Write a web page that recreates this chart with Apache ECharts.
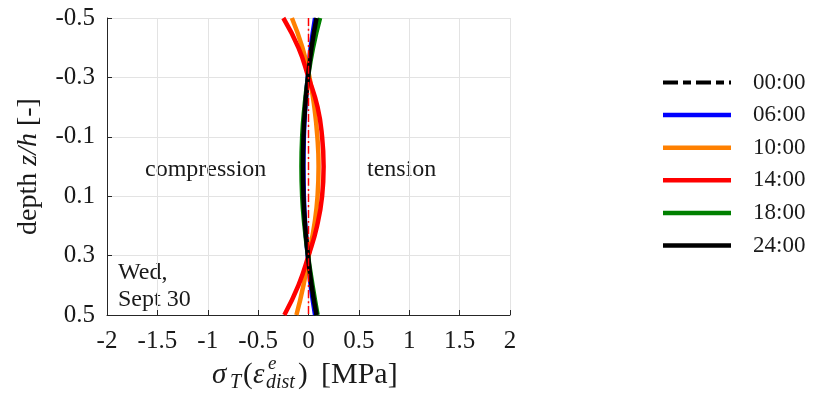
<!DOCTYPE html>
<html>
<head>
<meta charset="utf-8">
<script src="https://cdn.jsdelivr.net/npm/echarts@6/dist/echarts.min.js"></script>
<style>
  html, body { margin: 0; padding: 0; background: #fff; }
  #chart { width: 816px; height: 394px; }
</style>
</head>
<body>
<div id="chart"></div>
<script>
// depth z/h, top of slab = -0.5
const depth = [-0.5, -0.4, -0.3, -0.2, -0.1, 0, 0.1, 0.2, 0.3, 0.4, 0.5];
// stress [MPa] per hour
const s0000 = [0, 0, 0, 0, 0, 0, 0, 0, 0, 0, 0];
const s0600 = [0.065, 0.022, -0.008, -0.032, -0.046, -0.05, -0.046, -0.032, -0.008, 0.022, 0.065];
const s1000 = [-0.165, -0.06, 0.01, 0.058, 0.088, 0.1, 0.09, 0.056, 0.002, -0.05, -0.12];
const s1400 = [-0.25, -0.1, 0.0, 0.09, 0.135, 0.15, 0.135, 0.085, 0.0, -0.1, -0.24];
const s1800 = [0.115, 0.045, -0.005, -0.04, -0.063, -0.07, -0.063, -0.04, -0.005, 0.04, 0.09];
const s2400 = [0.08, 0.03, -0.005, -0.033, -0.05, -0.055, -0.05, -0.033, -0.005, 0.03, 0.08];
const hours = ['00:00', '06:00', '10:00', '14:00', '18:00', '24:00'];
const colors = ['#ff0000', '#0000ff', '#ff8000', '#ff0000', '#008000', '#000000'];
const legendColors = ['#000000', '#0000ff', '#ff8000', '#ff0000', '#008000', '#000000'];
const values = [s0000, s0600, s1000, s1400, s1800, s2400];

const serif = '"Liberation Serif", "DejaVu Serif", serif';
// dash-dot swatch for the 00:00 legend entry
const dashDotIcon = 'path://M0,0h15v4h-15z M20,0h8v4h-8z M33,0h15v4h-15z M53,0h8v4h-8z M66,0h2v4h-2z';

const chart = echarts.init(document.getElementById('chart'), null, { renderer: 'canvas' });

const series = hours.map((h, i) => ({
    type: 'line',
    name: h,
    data: values[i].map((v, k) => [v, depth[k]]),
    smooth: true,
    symbol: 'none',
    z: i === 0 ? 10 : 2 + i,
    lineStyle: i === 0
        ? { color: colors[i], width: 1.5, type: [8, 3, 2, 3] }
        : { color: colors[i], width: 4.5 },
    itemStyle: { color: colors[i] }
}));

// x axis title pieces (sigma_T(eps^e_dist) [MPa])
const ty = 375;
const titleParts = [
    { text: 'σ', x: 212, y: ty, size: 29, italic: true },
    { text: 'T', x: 230, y: ty + 8, size: 20, italic: true },
    { text: '(', x: 243, y: ty, size: 29 },
    { text: 'ε', x: 253, y: ty, size: 29, italic: true },
    { text: 'e', x: 268, y: ty - 11, size: 19, italic: true },
    { text: 'dist', x: 266, y: ty + 8, size: 20, italic: true },
    { text: ')', x: 298, y: ty, size: 29 },
    { text: '[MPa]', x: 321, y: ty, size: 30 }
];

const annotations = [
    { text: 'compression', x: 145, y: 170 },
    { text: 'tension', x: 367, y: 170 },
    { text: 'Wed,', x: 118, y: 273 },
    { text: 'Sept 30', x: 118, y: 300 }
];

const option = {
    animation: false,
    backgroundColor: '#ffffff',
    grid: { left: 107, right: 306, top: 18, bottom: 79 },
    xAxis: {
        type: 'value',
        min: -2,
        max: 2,
        interval: 0.5,
        axisLine: { onZero: false, lineStyle: { color: '#262626', width: 1 } },
        axisTick: { inside: true, length: 5, lineStyle: { color: '#262626' } },
        axisLabel: { color: '#1a1a1a', fontFamily: serif, fontSize: 25, margin: 14 },
        splitLine: { show: true, lineStyle: { color: '#e3e3e3', width: 1 } }
    },
    yAxis: {
        type: 'value',
        inverse: true,
        min: -0.5,
        max: 0.5,
        interval: 0.2,
        name: '{n|depth }{i|z/h}{n| [-]}',
        nameLocation: 'middle',
        nameRotate: 90,
        nameGap: 64,
        nameTextStyle: {
            rich: {
                n: { fontFamily: serif, fontSize: 28, color: '#1a1a1a' },
                i: { fontFamily: serif, fontSize: 28, fontStyle: 'italic', color: '#1a1a1a' }
            }
        },
        axisLine: { onZero: false, lineStyle: { color: '#262626', width: 1 } },
        axisTick: { inside: true, length: 5, lineStyle: { color: '#262626' } },
        axisLabel: {
            color: '#1a1a1a', fontFamily: serif, fontSize: 25, margin: 12,
            formatter: v => v.toFixed(1)
        },
        splitLine: { show: true, lineStyle: { color: '#e3e3e3', width: 1 } }
    },
    legend: {
        orient: 'vertical',
        left: 658,
        top: 66,
        icon: 'rect',
        itemWidth: 68,
        itemHeight: 4.5,
        itemGap: 9.6,
        textStyle: { fontFamily: serif, fontSize: 23, color: '#1a1a1a', padding: [0, 0, 0, 17], lineHeight: 23 },
        data: hours.map((h, i) => ({
            name: h,
            icon: i === 0 ? dashDotIcon : 'rect',
            itemStyle: { color: legendColors[i] }
        }))
    },
    graphic: annotations.map(a => ({
        type: 'text',
        x: a.x,
        y: a.y,
        style: { text: a.text, font: '24px ' + serif, fill: '#1a1a1a', verticalAlign: 'middle' }
    })).concat(titleParts.map(p => ({
        type: 'text',
        x: p.x,
        y: p.y,
        style: {
            text: p.text,
            font: (p.italic ? 'italic ' : '') + p.size + 'px ' + serif,
            fill: '#1a1a1a',
            verticalAlign: 'middle'
        }
    }))),
    series: series
};

chart.setOption(option);
</script>
</body>
</html>
